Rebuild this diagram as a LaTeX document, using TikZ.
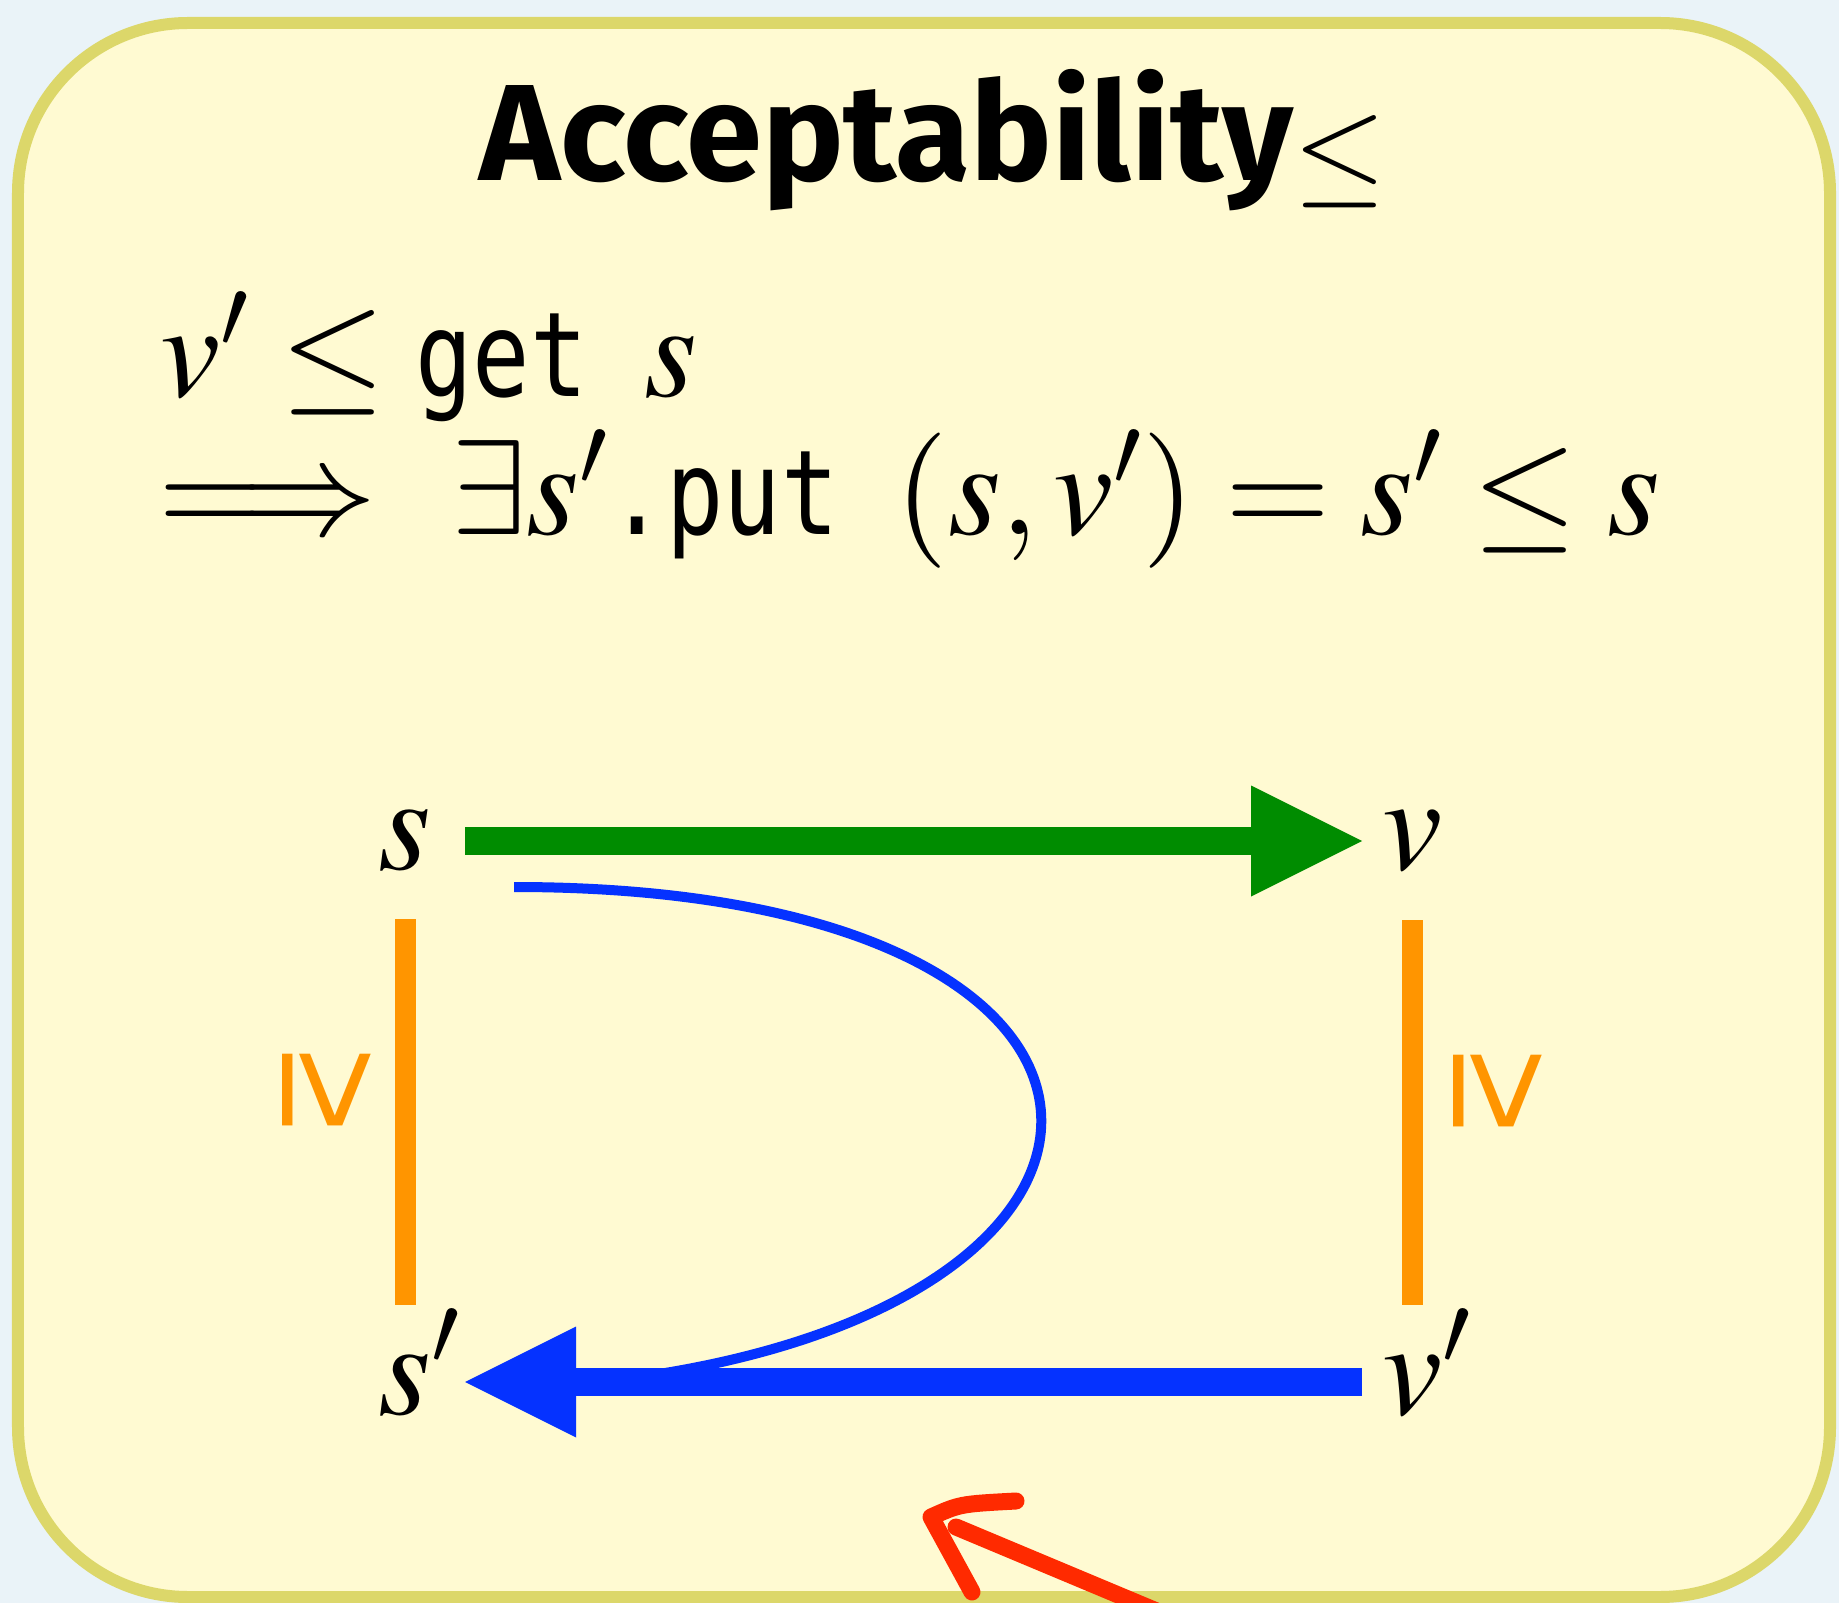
\documentclass[tikz,border=0pt]{standalone}
\usepackage{mathptmx}
\usepackage[no-math]{fontspec}
\setmonofont[Scale=0.87,FakeStretch=0.81]{DejaVu Sans Mono}
\newfontfamily\headfont{Fira Sans}
\newfontfamily\signfont{Liberation Sans}
\usepackage{xcolor}
\usetikzlibrary{arrows.meta, positioning, calc}
\definecolor{pagebg}{HTML}{EAF3F8}
\definecolor{cardfill}{HTML}{FFFAD2}
\definecolor{chalkline}{HTML}{DCD76A}
\definecolor{getgreen}{HTML}{008C00}
\definecolor{putblue}{HTML}{0532FF}
\definecolor{leqorange}{HTML}{FF9500}
\definecolor{chalkred}{HTML}{FF2A00}

\begin{document}
\begin{tikzpicture}[
    card/.style={fill=cardfill, draw=chalkline, line width=1.2mm, rounded corners=17mm},
    heading/.style={font=\headfont\bfseries\fontsize{39}{47}\selectfont, anchor=base, inner sep=0pt},
    mathtext/.style={font=\fontsize{38.5}{46}\selectfont, inner sep=0pt, anchor=base west},
    getarr/.style={draw=getgreen, line width=2.8mm,
        -{Triangle[length=11.1mm, width=11.1mm, line width=0pt]},
        shorten <=3.3mm, shorten >=2mm},
    putarr/.style={draw=putblue, line width=2.8mm,
        -{Triangle[length=11.1mm, width=11.1mm, line width=0pt]},
        shorten <=2mm, shorten >=3.3mm},
    putpath/.style={draw=putblue, line width=1mm},
    orderline/.style={draw=leqorange, line width=2.1mm},
    ordersign/.style={text=leqorange, font=\signfont\fontsize{42}{42}\selectfont, inner sep=0pt},
    chalk/.style={draw=chalkred, line width=1.7mm, line cap=round, line join=round}
]

\useasboundingbox (0,0) rectangle (18.39,-16.03);
\fill[pagebg] (0,0) rectangle (18.39,-16.03);

% Card
\draw[card] (0.18,-0.23) rectangle (18.30,-15.97);

% Title and law
\node[heading] (title) at (9.33,-1.81)
    {Acceptability\raisebox{-0.11cm}{\fontsize{34}{34}\selectfont$\leq$}};
\node[mathtext] (getline) at (1.60,-3.97) {$v' \leq \texttt{get\ }s$};
\node[mathtext] (putline) at (1.58,-5.35)
    {$\Longrightarrow\;\,\exists s'\texttt{.put\ }(s, v') = s' \leq s$};

% Square of states and views
\node[mathtext] (s)  at (3.78,-8.69)  {$s$};
\node[mathtext] (v)  at (13.82,-8.69) {$v$};
\node[mathtext] (sp) at (3.78,-14.14) {$s'$};
\node[mathtext] (vp) at (13.82,-14.14) {$v'$};

% Order between the corners
\draw[orderline, shorten <=4.8mm, shorten >=0.4mm] (s.south) -- (s.south |- sp.north)
    node[midway, xshift=-7.8mm, rotate=-90, ordersign] {≥};
\draw[orderline, shorten <=4.8mm, shorten >=0.4mm] (v.south) -- (v.south |- vp.north)
    node[midway, xshift=8.5mm, rotate=-90, ordersign] {≥};

% get and put
\coordinate (loopstart) at (5.14,-8.87);
\coordinate (loopend) at (6.00,-13.82);
\draw[putpath] (loopstart) .. controls (12.02,-8.87) and (12.02,-13.15) .. (loopend);
\draw[getarr] ([yshift=2.8mm]s.base east) -- ([yshift=2.8mm]v.base west);
\draw[putarr] ([yshift=3.2mm]vp.base west) -- ([yshift=3.2mm]sp.base -| s.base east);

% Chalk pointer
\draw[chalk] (10.16,-15.01) .. controls (9.6,-15.04) .. (9.31,-15.17) -- (9.72,-15.92);
\draw[chalk] (9.56,-15.27) -- (11.9,-16.25);

\end{tikzpicture}
\end{document}
